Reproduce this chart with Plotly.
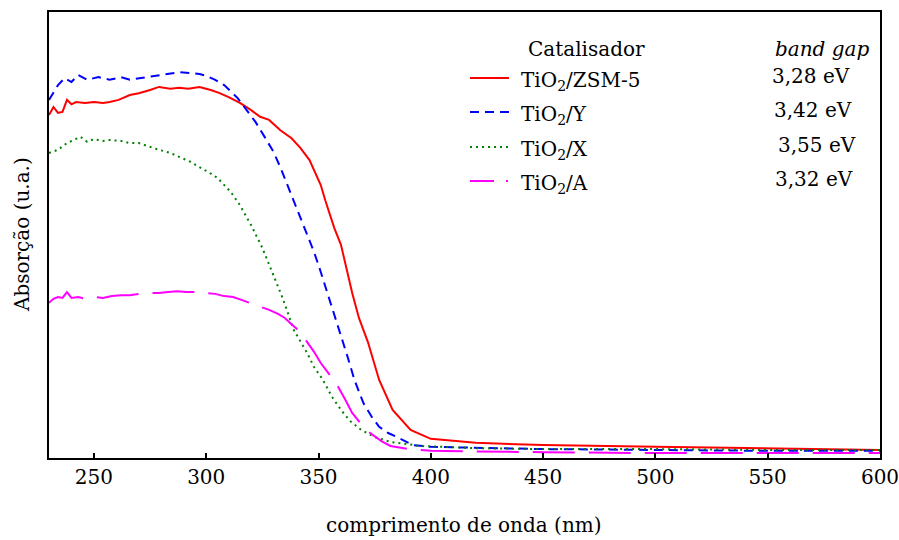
import plotly.graph_objects as go

# UV-Vis diffuse reflectance spectra (absorbance, arbitrary units)
wl_zsm5 = [230, 232, 234, 236, 238, 240, 242, 246, 250, 254, 257, 261, 266, 270, 275, 279, 284, 288,
           292, 297, 302, 306, 310, 315, 320, 324, 328, 333, 338, 342, 346, 349, 351, 353, 355, 357,
           360, 363, 365, 368, 372, 377, 383, 391, 400, 420, 450, 500, 550, 600]
abs_zsm5 = [0.769, 0.787, 0.774, 0.776, 0.803, 0.793, 0.798, 0.796, 0.798, 0.796, 0.798, 0.803, 0.814,
            0.818, 0.825, 0.832, 0.828, 0.830, 0.828, 0.832, 0.825, 0.818, 0.809, 0.796, 0.780, 0.765,
            0.758, 0.735, 0.717, 0.695, 0.668, 0.635, 0.612, 0.578, 0.545, 0.516, 0.478, 0.410, 0.370,
            0.314, 0.260, 0.175, 0.108, 0.063, 0.043, 0.034, 0.029, 0.025, 0.022, 0.018]

wl_y = [230, 232, 234, 237, 240, 243, 247, 252, 257, 262, 266, 271, 277, 283, 288, 293, 297, 300, 304,
        308, 311, 314, 318, 322, 326, 330, 333, 337, 340, 342, 345, 348, 351, 355, 359, 363, 366, 370,
        374, 377, 381, 385, 392, 400, 450, 500, 550, 600]
abs_y = [0.803, 0.821, 0.836, 0.852, 0.843, 0.859, 0.848, 0.854, 0.848, 0.854, 0.848, 0.852, 0.857,
         0.861, 0.865, 0.863, 0.861, 0.857, 0.848, 0.836, 0.821, 0.807, 0.780, 0.753, 0.720, 0.686,
         0.652, 0.601, 0.567, 0.540, 0.500, 0.462, 0.417, 0.354, 0.287, 0.226, 0.175, 0.123, 0.090,
         0.070, 0.056, 0.047, 0.029, 0.025, 0.020, 0.018, 0.016, 0.016]

wl_x = [230, 234, 238, 241, 244, 247, 250, 254, 257, 262, 266, 270, 275, 279, 284, 288, 293, 297, 301,
        305, 308, 311, 315, 320, 325, 329, 334, 339, 345, 348, 352, 356, 360, 364, 369, 375, 382, 390,
        395, 420, 450, 500, 550, 600]
abs_x = [0.684, 0.691, 0.706, 0.713, 0.720, 0.709, 0.715, 0.711, 0.713, 0.711, 0.706, 0.706, 0.697,
         0.691, 0.684, 0.675, 0.664, 0.652, 0.641, 0.628, 0.612, 0.596, 0.567, 0.522, 0.471, 0.422,
         0.359, 0.287, 0.235, 0.204, 0.175, 0.137, 0.108, 0.083, 0.063, 0.047, 0.036, 0.031, 0.027,
         0.022, 0.020, 0.020, 0.018, 0.018]

wl_a = [230, 232, 234, 236, 238, 240, 243, 246, 250, 254, 258, 262, 266, 270, 275, 279, 283, 287, 291,
        296, 300, 304, 308, 312, 316, 321, 325, 328, 332, 335, 338, 340, 343, 345, 348, 351, 355, 358,
        362, 365, 369, 373, 378, 382, 390, 400, 450, 500, 550, 600]
abs_a = [0.348, 0.357, 0.361, 0.359, 0.372, 0.359, 0.361, 0.357, 0.361, 0.359, 0.363, 0.365, 0.365,
         0.368, 0.370, 0.370, 0.372, 0.374, 0.372, 0.372, 0.370, 0.368, 0.363, 0.361, 0.354, 0.345,
         0.339, 0.332, 0.323, 0.314, 0.300, 0.291, 0.274, 0.260, 0.238, 0.213, 0.186, 0.166, 0.130,
         0.101, 0.076, 0.056, 0.038, 0.027, 0.020, 0.016, 0.013, 0.011, 0.011, 0.011]

catalysts = ["TiO<sub>2</sub>/ZSM-5", "TiO<sub>2</sub>/Y", "TiO<sub>2</sub>/X", "TiO<sub>2</sub>/A"]
band_gaps = ["3,28 eV", "3,42 eV", "3,55 eV", "3,32 eV"]
x_ticks = [250, 300, 350, 400, 450, 500, 550, 600]

FONT = "DejaVu Serif"
FSIZE = 20
colors = ["#ff0000", "#0000ff", "#008000", "#ff00ff"]
dashes = ["solid", "9px,6px", "2px,4px", "42px,14px"]
legend_dashes = ["solid", "9px,6px", "2px,4px", "24px,12px,2px,60px"]

series = [(wl_zsm5, abs_zsm5), (wl_y, abs_y), (wl_x, abs_x), (wl_a, abs_a)]

fig = go.Figure()
for (wl, ab), name, col, dash in zip(series, catalysts, colors, dashes):
    fig.add_trace(go.Scatter(x=wl, y=ab, mode="lines", name=name,
                             line=dict(color=col, width=2, dash=dash)))

# plot-area geometry in pixels (for placing the two-column legend)
L, R, T, B = 49, 880, 12, 458


def px(xp):
    return (xp - L) / (R - L)


def py(yp):
    return (B - yp) / (B - T)


annotations = [
    dict(text="Catalisador", x=px(586), y=py(49), xanchor="center", yanchor="middle"),
    dict(text="<i>band gap</i>", x=px(822), y=py(49), xanchor="center", yanchor="middle"),
    dict(text="comprimento de onda (nm)", x=px(464), y=py(525), xanchor="center", yanchor="middle"),
    dict(text="Absorção (u.a.)", x=px(22), y=py(235), xanchor="center", yanchor="middle",
         textangle=-90),
]
shapes = []
row_y = [78, 112, 147, 181]
gap_x = [811, 813, 817, 814]
for i, (name, bg) in enumerate(zip(catalysts, band_gaps)):
    annotations.append(dict(text=name, x=px(519), y=py(row_y[i] + 3), xanchor="left", yanchor="middle"))
    annotations.append(dict(text=bg, x=px(gap_x[i]), y=py(row_y[i] - 2), xanchor="center", yanchor="middle"))
    shapes.append(dict(type="line", xref="paper", yref="paper", x0=px(470), x1=px(509),
                       y0=py(row_y[i]), y1=py(row_y[i]),
                       line=dict(color=colors[i], width=2, dash=legend_dashes[i])))

for a in annotations:
    a.update(xref="paper", yref="paper", showarrow=False,
             font=dict(family=FONT, size=FSIZE, color="black"))

fig.update_layout(
    width=899, height=540,
    margin=dict(l=L, r=899 - R, t=T, b=540 - B, autoexpand=False),
    paper_bgcolor="white", plot_bgcolor="white",
    showlegend=False,
    font=dict(family=FONT, size=FSIZE, color="black"),
    annotations=annotations,
    shapes=shapes,
    xaxis=dict(range=[230, 600], tickvals=x_ticks, ticks="inside", ticklen=5, tickwidth=1.5,
               tickcolor="black", showline=True, linecolor="black", linewidth=2, mirror=True,
               showgrid=False, zeroline=False, automargin=False, ticklabeloverflow="allow",
               tickfont=dict(family=FONT, size=FSIZE)),
    yaxis=dict(range=[0, 1], showticklabels=False, ticks="", showline=True, linecolor="black",
               linewidth=2, mirror=True, showgrid=False, zeroline=False, automargin=False),
)

fig.write_html("out.html")
